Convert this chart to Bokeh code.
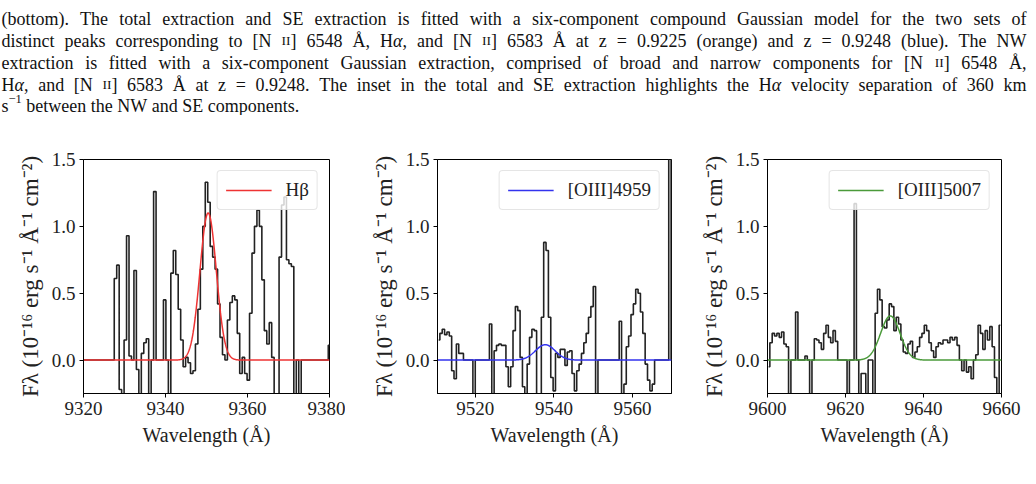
import re
import numpy as np
from bokeh.plotting import figure
from bokeh.models import Range1d, FixedTicker, NumeralTickFormatter
from bokeh.core.properties import value
from bokeh.layouts import column, row
from bokeh.embed import file_html
from bokeh.resources import INLINE

FONT = "Liberation Serif"

# ---------------- data ----------------
# H-beta panel: spectrum (dispersion start / step, fluxes in 1e-16 erg/s/A/cm2)
hb_wave_start, hb_wave_step = 9320.0, 0.6
hb_flux = [0, 0, 0, 0, 0, 0, 0, 0, 0, 0, 0, 0, 0,
           0.61, 0.71, -0.22, -0.3, 0.15, 0.93, 0.03, 0.0, 0.67, -0.07,
           -0.3, 0.05, 0.13, 0.16, -0.3, 0.0, 1.26, 0.0, 0.0, 0.0,
           0.45, 0.0, -0.3, 0.65, 0.82, 0.64, 0.38, 0.15, -0.05, 0.02,
           -0.02, -0.1, -0.08, 0.12, 0.38, 0.68, 1.0, 1.33, 1.18, 0.85,
           0.77, 0.68, 0.42, 0.17, 0.04, 0.0, 0.3, 0.43, 0.48, 0.45,
           0.2, -0.1, 0.02, -0.1, -0.15, 0.35, 0.8, 1.0, 1.12, 1.0,
           0.6, 0.22, 0.12, 0.28, 0.02, -0.5, -0.5, 0.77, 1.16, 1.22,
           0.75, 0.72, 0.7, -0.5, 0.0, -0.5, 0.0,
           0, 0, 0, 0, 0, 0, 0, 0, 0, 0, 0.11, 0.11]
hb_fit = dict(amp=1.10, center=9350.4, sigma=2.0)

o4959_wave_start, o4959_wave_step = 9510.7, 0.6
o4959_flux = [0.15, 0.2, 0.23, 0.19, 0.21, 0.18, -0.08, -0.14, 0.12, 0.05,
              0.05, 0.0, 0.0, 0.0, 0.0, -0.4, 0.0, 0.0, 0.0, 0.0,
              0.0, 0.0, 0.27, -0.4, 0.07, 0.11, 0.12, 0.11, 0.11, -0.05,
              -0.2, -0.05, 0.22, 0.4, 0.37, 0.02, -0.2, -0.4, -0.03, 0.17,
              0.23, 0.22, -0.4, -0.4, 0.32, 0.88, 0.82, 0.32, -0.13, -0.23,
              0.05, 0.02, 0.08, 0.08, -0.04, 0.06, 0.07, -0.1, -0.23, -0.08,
              -0.03, 0.05, 0.13, 0.2, 0.32, 0.4, 0.55, -0.4, 0.0, 0.0,
              0.0, 0.0, 0.0, 0.0, 0.0, 0.0, 0.0, 0.29, -0.4, -0.18,
              0.1, 0.18, 0.34, 0.42, 0.53, 0.5, 0.36, 0.2, -0.03, -0.15,
              -0.23, -0.18, 0.0, 0.0, 0.0, 0.0, 0.0, 0.0, 3.0, 0.0]
o4959_fit = dict(amp=0.115, center=9537.8, sigma=2.5)

o5007_wave_start, o5007_wave_step = 9600.3, 0.6
o5007_flux = [-0.05, 0.13, 0.2, 0.18, 0.2, 0.17, 0.21, 0.12, 0.1, -0.4,
              0.0, 0.0, 0.36, 0.0, 0.0, 0.0, 0.03, 0.0, -0.4, 0.0,
              0.16, 0.15, 0.13, 0.08, 0.2, 0.26, 0.17, 0.13, 0.22, 0.14,
              0.0, 0.0, 0.0, 0.0, -0.4, 0.0, 0.0, 1.17, 0.0, -0.3,
              -0.1, -0.1, -0.4, 0.0, 0.0, -0.4, 0.35, 0.53, 0.45, 0.25,
              0.24, 0.3, 0.42, 0.4, 0.22, 0.32, 0.27, 0.15, 0.06, 0.05,
              0.12, 0.14, 0.02, 0.06, 0.1, 0.17, 0.2, 0.26, 0.22, 0.13,
              0.07, 0.02, 0.1, 0.13, 0.12, 0.15, 0.15, 0.13, 0.17, 0.15,
              0.17, 0.11, 0.0, -0.08, 0.0, -0.09, -0.05, -0.14, 0.0, 0.04,
              0.26, 0.2, 0.08, 0.22, 0.15, 0.25, 0.1, -0.13, -0.4, 0.26]
o5007_fit = dict(amp=0.33, center=9631.5, sigma=2.5)

panel_labels = ["Hβ", "[OIII]4959", "[OIII]5007"]
panel_colors = ["#ee3333", "#3333ee", "#4a9a3a"]
panel_xranges = [(9320, 9380), (9510.4, 9569.9), (9600, 9660)]
panel_xticks = [[9320, 9340, 9360, 9380], [9520, 9540, 9560], [9600, 9620, 9640, 9660]]
y_ticks = [0.0, 0.5, 1.0, 1.5]
x_label = "Wavelength (Å)"
y_label = "Fλ (10⁻¹⁶ erg s⁻¹ Å⁻¹ cm⁻²)"

# caption: {ii} = small caps, <i>..</i> = italic, ^{..} = superscript
caption_lines = [
    "(bottom). The total extraction and SE extraction is fitted with a six-component compound Gaussian model for the two sets of",
    "distinct peaks corresponding to [N {ii}] 6548 Å, H<i>α</i>, and [N {ii}] 6583 Å at z = 0.9225 (orange) and z = 0.9248 (blue). The NW",
    "extraction is fitted with a six-component Gaussian extraction, comprised of broad and narrow components for [N {ii}] 6548 Å,",
    "H<i>α</i>, and [N {ii}] 6583 Å at z = 0.9248. The inset in the total and SE extraction highlights the H<i>α</i> velocity separation of 360 km",
    "s^{−1} between the NW and SE components.",
]

# ---------------- caption typesetting (Times metrics, em/1000) ----------------
W = {' ': 250, '(': 333, ')': 333, ',': 250, '-': 333, '.': 250, '=': 564, '[': 333, ']': 333,
     'Å': 722, 'α': 530, '−': 564}
W.update({d: 500 for d in "0123456789"})
W.update(dict(zip("ABCDEFGHIJKLMNOPQRSTUVWXYZ",
                  [722, 667, 667, 722, 611, 556, 722, 722, 333, 389, 722, 611, 889, 722, 722,
                   556, 722, 667, 556, 611, 722, 722, 944, 722, 722, 611])))
W.update(dict(zip("abcdefghijklmnopqrstuvwxyz",
                  [444, 500, 444, 500, 444, 333, 500, 500, 278, 278, 500, 278, 778, 500, 500,
                   500, 500, 333, 389, 278, 500, 500, 722, 500, 500, 444])))

CAP_SIZE = 18.0
SIZES = {"n": CAP_SIZE, "i": CAP_SIZE, "sc": 13.5, "sup": 12.5}
RISE = {"n": 0, "i": 0, "sc": 0, "sup": -7}


def runs_of(word):
    out = []
    for m in re.finditer(r"\{ii\}|<i>(.*?)</i>|\^\{(.*?)\}|([^{<^]+)", word):
        if m.group(0) == "{ii}":
            out.append(("II", "sc"))
        elif m.group(1) is not None:
            out.append((m.group(1), "i"))
        elif m.group(2) is not None:
            out.append((m.group(2), "sup"))
        else:
            out.append((m.group(3), "n"))
    return out


def width(text, style):
    return sum(W.get(c, 500) for c in text) / 1000.0 * SIZES[style]


def caption_figure():
    cap = figure(width=1036, height=115, x_range=Range1d(0, 1036), y_range=Range1d(115, 0),
                 x_axis_type=None, y_axis_type=None, min_border=0, outline_line_color=None,
                 toolbar_location=None, output_backend="svg")
    groups = {s: dict(x=[], y=[], t=[]) for s in SIZES}
    left, right = 1.0, 1026.0
    baselines = [18, 40, 62, 84, 105]
    for li, (ln, base) in enumerate(zip(caption_lines, baselines)):
        words = [runs_of(w) for w in ln.split(" ")]
        wwidth = [sum(width(t, s) for t, s in w) for w in words]
        natural_gap = W[' '] / 1000.0 * CAP_SIZE
        if li < len(caption_lines) - 1:
            gap = (right - left - sum(wwidth)) / (len(words) - 1)
        else:
            gap = natural_gap
        x = left
        for w, ww in zip(words, wwidth):
            cx = x
            for t, s in w:
                g = groups[s]
                g["x"].append(cx)
                g["y"].append(base + RISE[s])
                g["t"].append(t)
                cx += width(t, s)
            x += ww + gap
    for s, g in groups.items():
        if not g["t"]:
            continue
        cap.text(x=g["x"], y=g["y"], text=g["t"], text_font=value(FONT),
                 text_font_size=value(f"{SIZES[s]}px"),
                 text_font_style=value("italic" if s == "i" else "normal"),
                 text_baseline=value("alphabetic"), text_align=value("left"),
                 text_color=value("#111111"))
    return cap


def gaussian(x, amp, center, sigma):
    return amp * np.exp(-0.5 * ((x - center) / sigma) ** 2)


def make_panel(start, step, flux, fit, label, color, xr, xticks, bl, br, fw):
    wave = start + step * np.arange(len(flux))
    p = figure(frame_width=fw, frame_height=234, min_border_left=bl, min_border_right=br,
               min_border_top=44, min_border_bottom=91,
               x_range=Range1d(*xr), y_range=Range1d(-0.25, 1.5),
               output_backend="svg", toolbar_location=None)
    p.step(wave, flux, mode="center", line_color="#222222", line_width=1.6)
    mx = np.linspace(xr[0], xr[1], 800)
    p.line(mx, gaussian(mx, **fit), line_color=color, line_width=1.5, legend_label=label)

    p.xgrid.visible = False
    p.ygrid.visible = False
    p.outline_line_color = "black"
    p.outline_line_width = 1
    p.outline_line_alpha = 1
    p.xaxis.ticker = FixedTicker(ticks=xticks)
    p.yaxis.ticker = FixedTicker(ticks=y_ticks)
    p.xaxis.formatter = NumeralTickFormatter(format="0")
    p.yaxis.formatter = NumeralTickFormatter(format="0.0")
    for ax in (p.xaxis[0], p.yaxis[0]):
        ax.axis_line_color = "black"
        ax.major_tick_line_color = "black"
        ax.major_tick_out = 4
        ax.major_tick_in = 0
        ax.minor_tick_line_color = None
        ax.major_label_text_font = FONT
        ax.major_label_text_font_size = "19px"
        ax.major_label_text_color = "#222222"
        ax.axis_label_text_font = FONT
        ax.axis_label_text_font_style = "normal"
        ax.axis_label_text_color = "#222222"
        ax.major_label_standoff = 4
    p.xaxis.axis_label = x_label
    p.yaxis.axis_label = y_label
    p.xaxis.axis_label_text_font_size = "20px"
    p.yaxis.axis_label_text_font_size = "23px"
    p.xaxis.axis_label_standoff = 6
    p.yaxis.axis_label_standoff = 6

    lg = p.legend[0]
    lg.location = "top_right"
    lg.label_text_font = FONT
    lg.label_text_font_size = "19px"
    lg.label_text_color = "#222222"
    lg.glyph_width = 46
    lg.label_standoff = 14
    lg.padding = 8
    lg.margin = 11
    lg.border_line_color = "#cccccc"
    lg.border_line_width = 1
    lg.background_fill_alpha = 0.8
    if "border_radius" in lg.properties():
        lg.border_radius = 4
    return p


p1 = make_panel(hb_wave_start, hb_wave_step, hb_flux, hb_fit, panel_labels[0], panel_colors[0],
                panel_xranges[0], panel_xticks[0], 83, 16, 246)
p2 = make_panel(o4959_wave_start, o4959_wave_step, o4959_flux, o4959_fit, panel_labels[1], panel_colors[1],
                panel_xranges[1], panel_xticks[1], 92, 19, 234)
p3 = make_panel(o5007_wave_start, o5007_wave_step, o5007_flux, o5007_fit, panel_labels[2], panel_colors[2],
                panel_xranges[2], panel_xticks[2], 77, 35, 234)

layout = column(caption_figure(), row(p1, p2, p3, spacing=0), spacing=0)

open("out.html", "w").write(file_html(layout, INLINE))
